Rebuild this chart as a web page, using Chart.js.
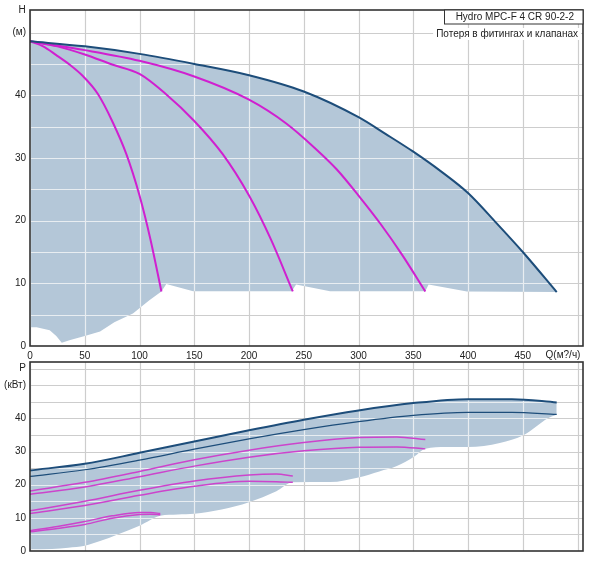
<!DOCTYPE html>
<html>
<head>
<meta charset="utf-8">
<script src="https://cdn.jsdelivr.net/npm/chart.js@4.4.0/dist/chart.umd.min.js"></script>
<style>
html, body { margin: 0; padding: 0; background: #fff; }
#wrap { position: relative; width: 600px; height: 582px; }
canvas { position: absolute; left: 0; }
#headChart { top: 0; }
#powerChart { top: 352px; }
</style>
</head>
<body>
<div id="wrap">
  <canvas id="headChart" width="600" height="372" style="width:600px;height:372px"></canvas>
  <canvas id="powerChart" width="600" height="230" style="width:600px;height:230px"></canvas>
</div>
<script>
// H(Q) curves, points are [Q m3/h, H m]
const head4 = [[0,48.6],[50,47.8],[100,46.6],[150,45],[200,43.2],[250,40.6],[300,36.5],[325,33.8],[350,31],[375,27.9],[400,24.4],[426,19.6],[452,14.6],[481,8.6]];
const head3 = [[0,48.6],[50,47.2],[100,45.5],[150,43],[200,39.3],[234,35.5],[260,31.6],[280,28.2],[300,24],[320,19.5],[340,14.5],[361,8.7]];
const head2 = [[0,48.6],[25,47.8],[50,46.5],[75,44.9],[100,43.4],[124,40.2],[150,35.9],[176,30.6],[200,24],[220,17],[240,8.7]];
const head1 = [[0,48.6],[12,47.8],[24,46.4],[36,44.9],[48,43.1],[62,40.2],[75,35.9],[88,30.6],[100,24],[110,17],[120,8.7]];
// lower edge of the operating area
const headMin = [[0,3],[6,3],[18,2.5],[24,1.6],[29,0.5],[36,0.9],[50,1.6],[64,2.3],[77,3.8],[94,5.2],[109,7.3],[120,8.7],[124.5,9.9],[149,8.75],[239,8.75],[243,9.8],[274,8.75],[361,8.75],[364,9.8],[399,8.7],[481,8.6]];

// P(Q) curves, [Q m3/h, P kW]; a = upper line, b = lower line
const power4a = [[0,24.3],[50,26.3],[100,29.6],[150,33],[200,36.4],[250,39.6],[300,42.4],[350,44.6],[400,45.8],[440,45.8],[481,44.8]];
const power4b = [[0,22.5],[50,24.5],[100,27.4],[150,30.7],[200,33.8],[250,36.6],[300,39],[350,40.9],[400,41.8],[440,41.8],[481,41.2]];
const power3a = [[0,18.1],[50,20.7],[100,24],[150,27.5],[200,30.4],[250,32.7],[300,34.2],[335,34.4],[361,33.6]];
const power3b = [[0,17.1],[50,19.3],[100,22.4],[150,25.6],[200,28.3],[250,30.2],[300,31.3],[335,31.4],[361,30.8]];
const power2a = [[0,12.1],[50,15],[100,18.3],[150,21.1],[200,22.9],[225,23.2],[240,22.6]];
const power2b = [[0,11.3],[50,13.7],[100,16.8],[150,19.5],[200,21],[225,20.9],[240,20.7]];
const power1a = [[0,6.1],[25,7.4],[50,8.9],[75,10.6],[100,11.6],[110,11.6],[119,11.3]];
const power1b = [[0,5.8],[25,6.8],[50,8],[75,9.9],[100,11],[110,11.1],[119,10.9]];
const powerMin = [[0,0.5],[20,0.6],[35,1],[50,1.6],[64,3],[80,5],[100,7.6],[119,10.6],[135,11],[150,11.2],[175,12.5],[200,14.7],[225,18],[240,20.7],[274,20.8],[300,22.2],[319,24],[335,25.6],[351,28.5],[361,30.8],[380,31.4],[400,31.4],[429,32.6],[451,35],[473,40],[481,41.2]];

const qMax = 505;
const hMax = 53.6;
const pMax = 57;
const modelName = 'Hydro MPC-F 4 CR 90-2-2';
const lossNote = 'Потеря в фитингах и клапанах';

const DARK = '#1d4d7a';
const MAGENTA = '#d020d0';
const MAGENTA_LIGHT = '#cc44cc';
const AREA = '#b4c7d8';

Chart.defaults.font.family = "'Liberation Sans', Arial, sans-serif";
Chart.defaults.font.size = 10;
Chart.defaults.color = '#222';

const pts = arr => arr.map(p => ({ x: p[0], y: p[1] }));

function curve(data, color, width) {
  return { data: pts(data), borderColor: color, borderWidth: width, pointRadius: 0, fill: false, cubicInterpolationMode: 'monotone' };
}

function area(data, smooth, toNext) {
  const ds = { data: pts(data), borderColor: 'rgba(0,0,0,0)', borderWidth: 0, pointRadius: 0, fill: false };
  if (smooth) ds.cubicInterpolationMode = 'monotone';
  if (toNext) { ds.fill = '+1'; ds.backgroundColor = AREA; }
  return ds;
}

// gridlines: light over the blue area, grey over the white
const gridPlugin = {
  id: 'twoToneGrid',
  beforeDatasetsDraw(chart) {
    const { ctx, chartArea: a, scales } = chart;
    const lines = [];
    scales.x.ticks.forEach(t => {
      const p = Math.round(scales.x.getPixelForValue(t.value)) + 0.5;
      lines.push([p, a.top, p, a.bottom]);
    });
    scales.y.ticks.forEach(t => {
      const p = Math.round(scales.y.getPixelForValue(t.value)) + 0.5;
      lines.push([a.left, p, a.right, p]);
    });
    const stroke = () => {
      ctx.beginPath();
      lines.forEach(l => { ctx.moveTo(l[0], l[1]); ctx.lineTo(l[2], l[3]); });
      ctx.stroke();
    };
    ctx.save();
    ctx.beginPath();
    ctx.rect(a.left, a.top, a.right - a.left, a.bottom - a.top);
    ctx.clip();
    ctx.lineWidth = 1.2;
    ctx.globalCompositeOperation = 'source-atop';
    ctx.strokeStyle = '#e8edf1';
    stroke();
    ctx.globalCompositeOperation = 'destination-over';
    ctx.strokeStyle = '#cdcdcd';
    stroke();
    ctx.restore();
  },
  afterDraw(chart, args, opts) {
    const { ctx, chartArea: a } = chart;
    ctx.save();
    ctx.strokeStyle = '#333';
    ctx.lineWidth = 1.6;
    ctx.strokeRect(a.left, a.top, a.right - a.left, a.bottom - a.top);
    ctx.fillStyle = '#222';
    ctx.font = "10px 'Liberation Sans', Arial, sans-serif";
    (opts.texts || []).forEach(t => {
      ctx.textAlign = t.align || 'center';
      ctx.textBaseline = 'middle';
      ctx.fillText(t.text, t.x, t.y);
    });
    if (opts.legend) {
      ctx.textAlign = 'right';
      ctx.textBaseline = 'middle';
      ctx.fillStyle = '#fff';
      ctx.fillRect(444, a.top, a.right - 444, 14);
      ctx.strokeStyle = '#333';
      ctx.lineWidth = 1;
      ctx.strokeRect(444.5, a.top, a.right - 444.5, 14);
      ctx.fillStyle = '#222';
      ctx.fillText(modelName, a.right - 9, a.top + 7.5);
      const w = ctx.measureText(lossNote).width;
      ctx.fillStyle = '#fff';
      ctx.fillRect(a.right - 5 - w - 3, a.top + 18, w + 6, 12);
      ctx.fillStyle = '#222';
      ctx.fillText(lossNote, a.right - 5, a.top + 24.5);
    }
    ctx.restore();
  }
};

function baseScales(yMax, yLabel, xHeight, showX) {
  return {
    x: {
      type: 'linear', min: 0, max: qMax,
      grid: { display: false, drawTicks: false }, border: { display: false },
      ticks: {
        display: showX, stepSize: 50, includeBounds: false, autoSkip: false, maxRotation: 0,
        maxTicksLimit: 20, padding: 4,
        callback: v => (v <= 450 ? String(v) : '')
      },
      afterFit: s => { s.height = xHeight; }
    },
    y: {
      min: 0, max: yMax,
      grid: { display: false, drawTicks: false }, border: { display: false },
      ticks: {
        stepSize: 5, includeBounds: false, autoSkip: false, maxTicksLimit: 20, padding: 4,
        callback: yLabel
      },
      afterFit: s => { s.width = 30; }
    }
  };
}

new Chart(document.getElementById('headChart'), {
  type: 'line',
  data: {
    datasets: [
      curve(head4, DARK, 2),
      curve(head3, MAGENTA, 2),
      curve(head2, MAGENTA, 2),
      curve(head1, MAGENTA, 2),
      area(head4, true, true),
      area(headMin, false, false)
    ]
  },
  options: {
    responsive: false,
    animation: false,
    layout: { padding: { top: 3, right: 17, left: 0, bottom: 0 } },
    scales: baseScales(hMax, v => (v === 50 ? '(м)' : (v % 10 === 0 ? String(v) : '')), 26, true),
    plugins: {
      legend: { display: false },
      tooltip: { enabled: false },
      filler: { drawTime: 'beforeDraw' },
      twoToneGrid: {
        legend: true,
        texts: [
          { text: 'H', x: 22, y: 10 },
          { text: 'Q(м?/ч)', x: 563, y: 355 }
        ]
      }
    }
  },
  plugins: [gridPlugin]
});

new Chart(document.getElementById('powerChart'), {
  type: 'line',
  data: {
    datasets: [
      curve(power4a, DARK, 2),
      curve(power4b, DARK, 1.2),
      curve(power3a, MAGENTA_LIGHT, 1.5),
      curve(power3b, MAGENTA_LIGHT, 1.5),
      curve(power2a, MAGENTA_LIGHT, 1.5),
      curve(power2b, MAGENTA_LIGHT, 1.5),
      curve(power1a, MAGENTA_LIGHT, 1.5),
      curve(power1b, MAGENTA_LIGHT, 1.5),
      area(power4a, true, true),
      area(powerMin, true, false)
    ]
  },
  options: {
    responsive: false,
    animation: false,
    layout: { padding: { top: 8, right: 17, left: 0, bottom: 0 } },
    scales: baseScales(pMax, v => (v === 55 ? 'P' : v === 50 ? '(кВт)' : (v % 10 === 0 ? String(v) : '')), 31, false),
    plugins: {
      legend: { display: false },
      tooltip: { enabled: false },
      filler: { drawTime: 'beforeDraw' },
      twoToneGrid: { legend: false, texts: [] }
    }
  },
  plugins: [gridPlugin]
});
</script>
</body>
</html>
